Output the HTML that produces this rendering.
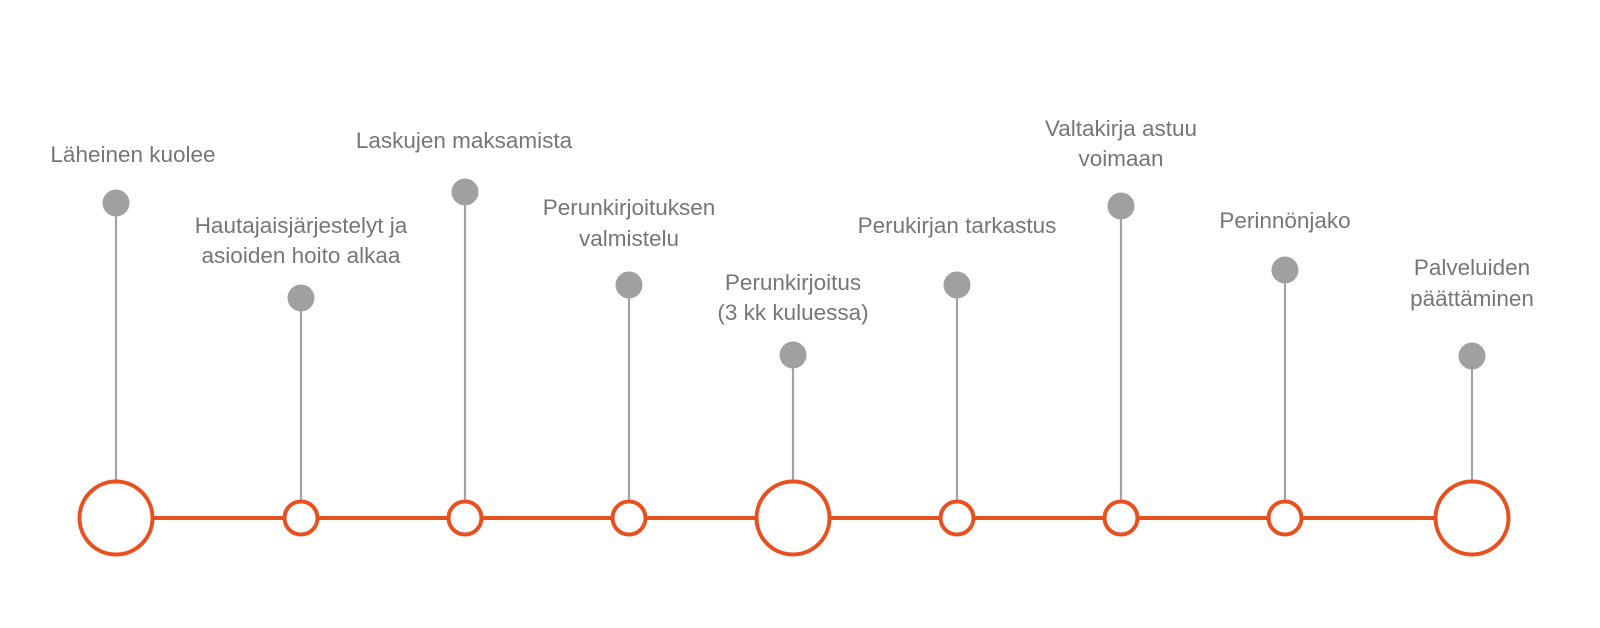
<!DOCTYPE html>
<html><head><meta charset="utf-8"><style>
html,body{margin:0;padding:0;background:#fff;width:1600px;height:628px;overflow:hidden}
text{font-family:"Liberation Sans",sans-serif;font-size:22.5px;fill:#767676;text-anchor:middle}
</style></head><body>
<svg width="1600" height="628" viewBox="0 0 1600 628" xmlns="http://www.w3.org/2000/svg">
<g stroke="#a3a3a3" stroke-width="2.2">
<line x1="116" y1="203" x2="116" y2="480"/>
<line x1="301" y1="298" x2="301" y2="500"/>
<line x1="465" y1="192" x2="465" y2="500"/>
<line x1="629" y1="285" x2="629" y2="500"/>
<line x1="793" y1="355" x2="793" y2="480"/>
<line x1="957" y1="285" x2="957" y2="500"/>
<line x1="1121" y1="206" x2="1121" y2="500"/>
<line x1="1285" y1="270" x2="1285" y2="500"/>
<line x1="1472" y1="356" x2="1472" y2="480"/>
</g>
<g fill="#9fa09f">
<circle cx="116" cy="203" r="13.5"/>
<circle cx="301" cy="298" r="13.5"/>
<circle cx="465" cy="192" r="13.5"/>
<circle cx="629" cy="285" r="13.5"/>
<circle cx="793" cy="355" r="13.5"/>
<circle cx="957" cy="285" r="13.5"/>
<circle cx="1121" cy="206" r="13.5"/>
<circle cx="1285" cy="270" r="13.5"/>
<circle cx="1472" cy="356" r="13.5"/>
</g>
<line x1="116" y1="518" x2="1472" y2="518" stroke="#e8501f" stroke-width="4"/>
<g fill="#fff" stroke="#e8501f" stroke-width="4">
<circle cx="116" cy="518" r="36.5"/>
<circle cx="301" cy="518" r="16.5"/>
<circle cx="465" cy="518" r="16.5"/>
<circle cx="629" cy="518" r="16.5"/>
<circle cx="793" cy="518" r="36.5"/>
<circle cx="957" cy="518" r="16.5"/>
<circle cx="1121" cy="518" r="16.5"/>
<circle cx="1285" cy="518" r="16.5"/>
<circle cx="1472" cy="518" r="36.5"/>
</g>
<text x="133" y="162">Läheinen kuolee</text>
<text x="301" y="233">Hautajaisjärjestelyt ja</text>
<text x="301" y="263">asioiden hoito alkaa</text>
<text x="464" y="148">Laskujen maksamista</text>
<text x="629" y="215">Perunkirjoituksen</text>
<text x="629" y="246">valmistelu</text>
<text x="793" y="290">Perunkirjoitus</text>
<text x="793" y="320">(3 kk kuluessa)</text>
<text x="957" y="233">Perukirjan tarkastus</text>
<text x="1121" y="136">Valtakirja astuu</text>
<text x="1121" y="166">voimaan</text>
<text x="1285" y="228">Perinnönjako</text>
<text x="1472" y="275">Palveluiden</text>
<text x="1472" y="306">päättäminen</text>
</svg>
</body></html>
